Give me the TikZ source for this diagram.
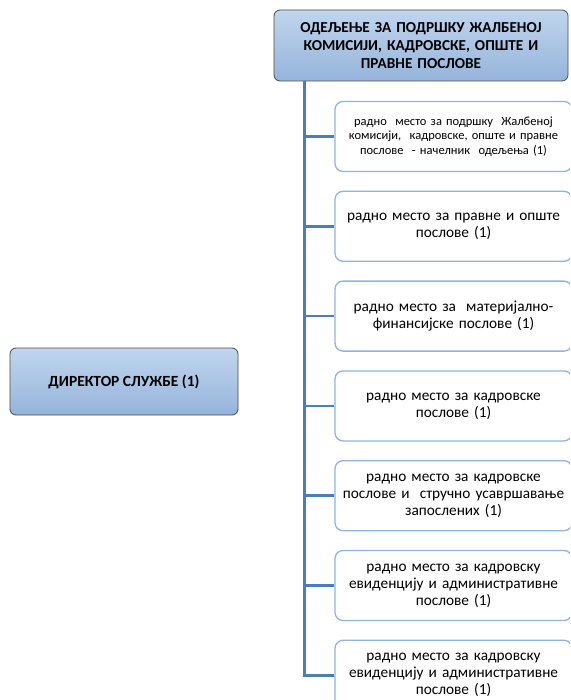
\documentclass[tikz,border=0pt]{standalone}
\usepackage{fontspec}
\setmainfont{Carlito}
\usepackage{xcolor}
\usetikzlibrary{positioning}
\definecolor{headtop}{RGB}{192,213,238}
\definecolor{headbot}{RGB}{149,180,218}
\definecolor{linkblue}{RGB}{74,126,187}
\definecolor{boxedge}{RGB}{141,180,226}
\tikzstyle{headbox}=[rectangle, rounded corners=6pt, draw=black!70, line width=0.8pt, top color=headtop, bottom color=headbot, align=center, font=\bfseries]
\tikzstyle{jobbox}=[rectangle, rounded corners=8pt, draw=boxedge, line width=1.3pt, fill=white, minimum width=237pt, minimum height=70pt, text width=232pt, inner xsep=2pt, align=center, font=\fontsize{15.3pt}{17pt}\selectfont]

\begin{document}
\begin{tikzpicture}[x=1pt, y=-1pt]

\tikzset{link/.style={draw=linkblue, line width=2.6pt}}

\clip (0,0) rectangle (570,700);
\fill[white] (0,0) rectangle (570,700);

% Director and department
\node[headbox, minimum width=228pt, minimum height=67pt, font=\bfseries\fontsize{15.5pt}{18pt}\selectfont] (director) at (124,381.5) {ДИРЕКТОР СЛУЖБЕ (1)};
\node[headbox, minimum width=294pt, minimum height=71pt, text width=290pt, inner xsep=2pt, font=\bfseries\fontsize{15.2pt}{18pt}\selectfont] (odeljenje) at (421,45.5)
  {ОДЕЉЕЊЕ ЗА ПОДРШКУ ЖАЛБЕНОЈ\\КОМИСИЈИ, КАДРОВСКЕ, ОПШТЕ И\\ПРАВНЕ ПОСЛОВЕ};

% Job positions
\node[jobbox, font=\fontsize{12.5pt}{14.5pt}\selectfont] (rm1) at (453.5,136.5)
  {радно\ \ место за подршку\ \ Жалбеној\\комисији,\ \ кадровске, опште и правне\\послове\ \ - начелник\ \ одељења (1)};
\node[jobbox, below=18.5pt of rm1] (rm2) {радно место за правне и опште\\послове (1)};
\node[jobbox, below=18.5pt of rm2] (rm3) {радно место за\ \ материјално-\\финансијске послове (1)};
\node[jobbox, below=18.5pt of rm3] (rm4) {радно место за кадровске\\послове (1)};
\node[jobbox, below=18.5pt of rm4] (rm5) {радно место за кадровске\\послове и\ \ стручно усавршавање\\запослених (1)};
\node[jobbox, below=18.5pt of rm5] (rm6) {радно место за кадровску\\евиденцију и административне\\послове (1)};
\node[jobbox, below=18.5pt of rm6] (rm7) {радно место за кадровску\\евиденцију и административне\\послове (1)};

% Connectors from department to positions
\coordinate (trunk) at ([xshift=31pt]odeljenje.south west);
\foreach \i in {1,...,7}
  \draw[link] (trunk) |- (rm\i.west);

\end{tikzpicture}
\end{document}
